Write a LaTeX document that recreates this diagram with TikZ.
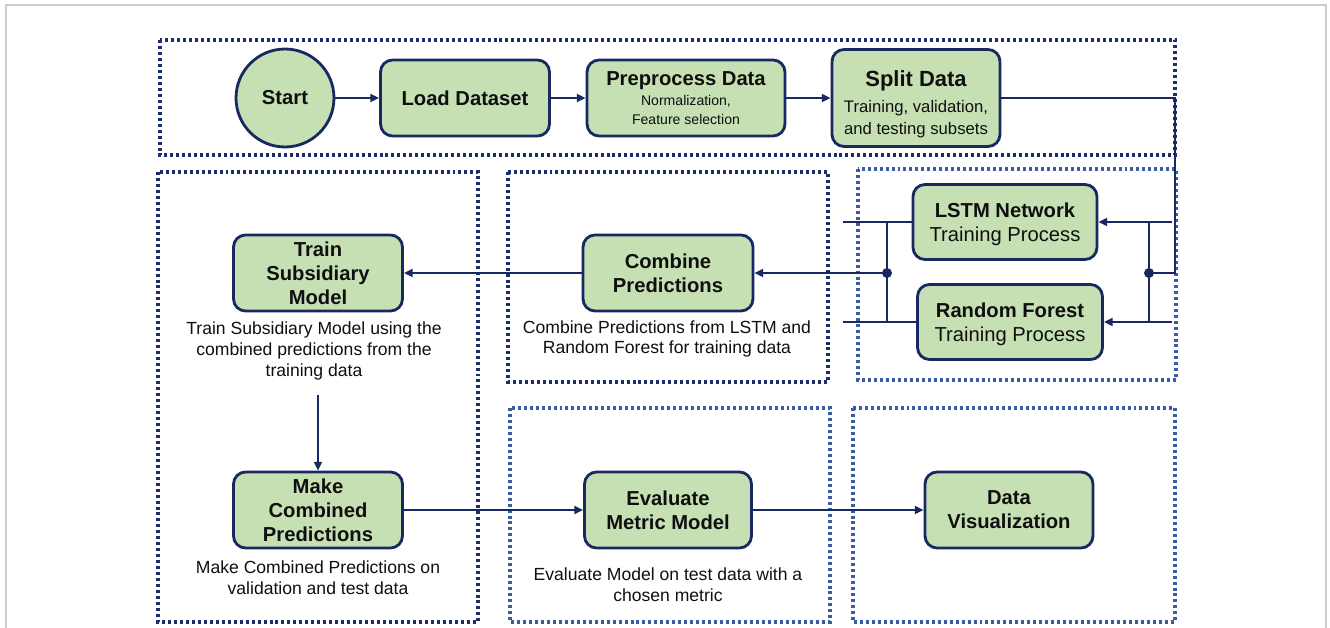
\documentclass[tikz,border=0pt]{standalone}
\usepackage{fontspec}
\setmainfont{Liberation Sans}
\usepackage{xcolor}
\usepackage{tikz}
\usetikzlibrary{arrows.meta,positioning,calc,backgrounds}

\definecolor{boxgreen}{RGB}{198,224,180}
\definecolor{boxnavy}{RGB}{24,40,96}
\definecolor{groupdark}{RGB}{28,46,110}
\definecolor{grouplight}{RGB}{58,92,165}
\definecolor{framegray}{RGB}{204,204,204}
\definecolor{txtblack}{RGB}{15,15,15}

\newcommand{\titlesize}{\fontsize{11.5}{13.6}\selectfont}
\newcommand{\descsize}{\fontsize{10}{11.9}\selectfont}

\tikzset{
  procbox/.style={draw=boxnavy, fill=boxgreen, line width=1.6pt, rounded corners=0.24cm,
    minimum width=3.38cm, minimum height=1.52cm, align=center, inner sep=1pt,
    text=txtblack, font=\bfseries\titlesize},
  startcircle/.style={draw=boxnavy, fill=boxgreen, line width=1.6pt, circle,
    minimum size=1.96cm, inner sep=0pt, text=txtblack, font=\bfseries\titlesize},
  desctext/.style={align=center, text=txtblack, font=\descsize, inner sep=0pt},
  flowline/.style={draw=boxnavy, line width=1.2pt},
  flowarrow/.style={flowline, -{Triangle[length=5pt,width=4.5pt]}},
  groupbox dark/.style={draw=groupdark, line width=1.8pt, dash pattern=on 1.7pt off 1.7pt},
  groupbox light/.style={draw=grouplight, line width=1.8pt, dash pattern=on 1.7pt off 1.7pt},
  joindot/.style={circle, fill=boxnavy, inner sep=0pt, minimum size=0.2cm}
}

\begin{document}
\begin{tikzpicture}[x=0.02cm, y=-0.02cm]

\useasboundingbox (0,0) rectangle (1330,628);
\draw[framegray, line width=1pt] (6,628) -- (6,5) -- (1326,5) -- (1326,628);

\draw[groupbox dark] (160,40) rectangle (1175,155);
\draw[groupbox dark] (158,172) rectangle (478,622);
\draw[groupbox dark] (508,172) rectangle (828,382);
\draw[groupbox light] (858,169) rectangle (1176,380);
\draw[groupbox light] (510,408) rectangle (830,622);
\draw[groupbox light] (853,408) rectangle (1175,622);

\node[startcircle] (start) at (285,98) {Start};
\node[procbox] (load) at (465,98) {Load Dataset};
\node[procbox, minimum width=3.96cm] (prep) at (686,98)
  {Preprocess Data\\[-1.8pt]
   \mdseries\fontsize{8}{10.8}\selectfont Normalization,\\[-2.8pt]
   \mdseries\fontsize{8}{10.8}\selectfont Feature selection};
\node[procbox, minimum width=3.36cm, minimum height=1.94cm] (split) at (916,98)
  {\rule{0pt}{16pt}\fontsize{12.5}{15}\selectfont Split Data\\[1pt]
   \mdseries\fontsize{9.5}{12.5}\selectfont Training, validation,\\[-1.1pt]
   \mdseries\fontsize{9.5}{12.5}\selectfont and testing subsets};

\node[procbox, minimum width=3.68cm, minimum height=1.5cm] (lstm) at (1005,222)
  {\rule{0pt}{11pt}LSTM Network\\ \mdseries Training Process};
\node[procbox, minimum width=3.7cm, minimum height=1.5cm] (rf) at (1010,322)
  {\rule{0pt}{11pt}Random Forest\\ \mdseries Training Process};

\node[procbox, minimum width=3.4cm] (combine) at (668,273) {Combine\\Predictions};
\node[desctext] (combinedesc) at (667,339)
  {Combine Predictions from LSTM and\\Random Forest for training data};

\node[procbox] (train) at (318,273) {Train\\Subsidiary\\Model};
\node[desctext] (traindesc) at (314,351)
  {Train Subsidiary Model using the\\combined predictions from the\\training data};

\node[procbox] (make) at (318,510) {Make\\Combined\\Predictions};
\node[desctext] (makedesc) at (318,578)
  {Make Combined Predictions on\\validation and test data};

\node[procbox, minimum width=3.34cm] (eval) at (668,510) {Evaluate\\Metric Model};
\node[desctext] (evaldesc) at (668,585)
  {Evaluate Model on test data with a\\chosen metric};

\node[procbox, minimum width=3.36cm] (vis) at (1009,510) {Data\\Visualization};

\coordinate (splitturn) at (1175,98);
\coordinate (splitdown) at (1175,273);
\coordinate (rdot) at (1149,273);
\coordinate (rtop) at (1149,222);
\coordinate (rbot) at (1149,322);
\coordinate (lstmin) at (1172,222);
\coordinate (rfin) at (1172,322);
\coordinate (lstmout) at (843,222);
\coordinate (rfout) at (843,322);
\coordinate (ltop) at (887,222);
\coordinate (lbot) at (887,322);
\coordinate (ldot) at (887,273);
\coordinate (traindown) at (318,395);

\draw[flowarrow] (start) -- (load);
\draw[flowarrow] (load) -- (prep);
\draw[flowarrow] (prep) -- (split);
\draw[flowline] (split) -- (splitturn) -- (splitdown) -- (rdot);
\draw[flowline] (rtop) -- (rbot);
\draw[flowarrow] (lstmin) -- (lstm);
\draw[flowarrow] (rfin) -- (rf);
\draw[flowline] (lstm) -- (lstmout);
\draw[flowline] (rf) -- (rfout);
\draw[flowline] (ltop) -- (lbot);
\draw[flowarrow] (ldot) -- (combine);
\draw[flowarrow] (combine) -- (train);
\draw[flowarrow] (traindown) -- (make);
\draw[flowarrow] (make) -- (eval);
\draw[flowarrow] (eval) -- (vis);
\node[joindot] at (rdot) {};
\node[joindot] at (ldot) {};

\end{tikzpicture}
\end{document}
